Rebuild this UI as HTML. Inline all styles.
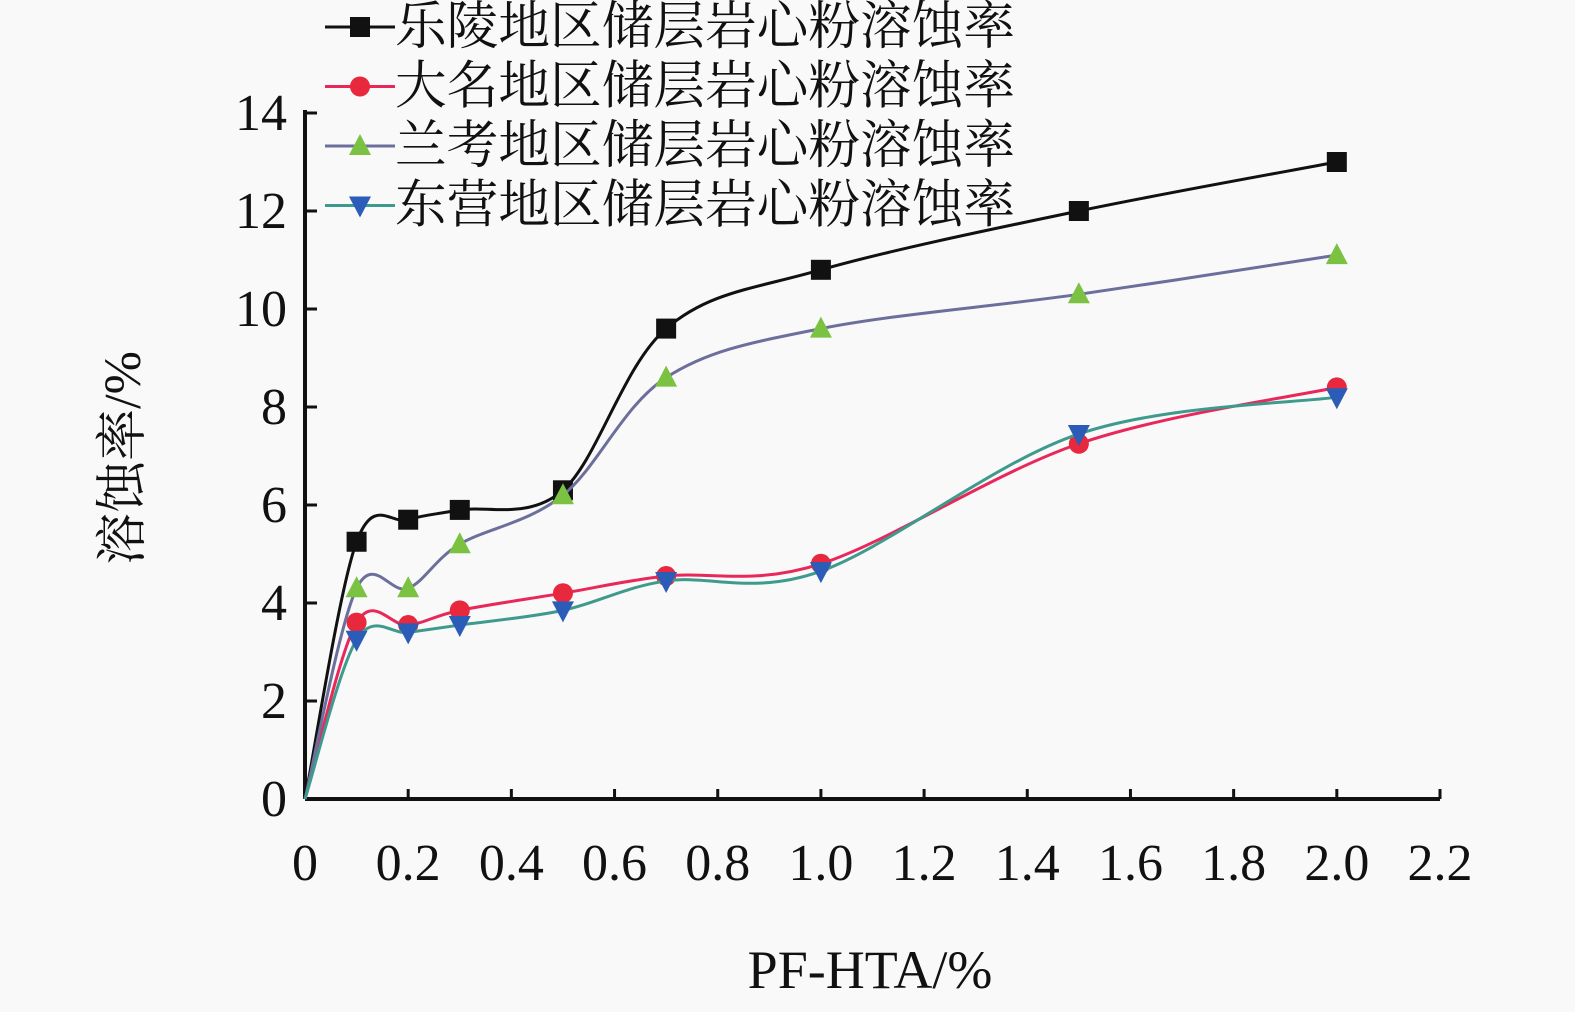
<!DOCTYPE html>
<html><head><meta charset="utf-8"><style>
html,body{margin:0;padding:0;background:#f9f9f9;}
svg{display:block;font-family:"Liberation Serif","Noto Serif CJK SC",serif;}
</style></head><body>
<svg id="c" width="1575" height="1012" xmlns="http://www.w3.org/2000/svg"></svg>
<script>
const xs=[0,0.1,0.2,0.3,0.5,0.7,1.0,1.5,2.0];
const leling=[0,5.25,5.7,5.9,6.3,9.6,10.8,12.0,13.0];
const daming=[0,3.6,3.55,3.85,4.2,4.55,4.8,7.25,8.4];
const lankao=[0,4.3,4.3,5.2,6.2,8.6,9.6,10.3,11.1];
const dongying=[0,3.25,3.4,3.55,3.85,4.45,4.65,7.45,8.2];
const xTicks=["0","0.2","0.4","0.6","0.8","1.0","1.2","1.4","1.6","1.8","2.0","2.2"];
const yTicks=["0","2","4","6","8","10","12","14"];
const names=["乐陵地区储层岩心粉溶蚀率","大名地区储层岩心粉溶蚀率","兰考地区储层岩心粉溶蚀率","东营地区储层岩心粉溶蚀率"];
const svg=document.getElementById('c');const NS='http://www.w3.org/2000/svg';
const X0=305,X1=1440,Y0=799,Y1=113;
const sx=v=>X0+v/2.2*(X1-X0), sy=v=>Y0-v/14*(Y0-Y1);
function mk(t,a,p){const e=document.createElementNS(NS,t);for(const k in a)e.setAttribute(k,a[k]);(p||svg).appendChild(e);return e;}
let g;
g=mk('line',{x1:X0,y1:Y0,x2:X1,y2:Y0,stroke:'#111','stroke-width':4});


g=mk('line',{x1:X0,y1:Y0,x2:X0,y2:Y1-3,stroke:'#111','stroke-width':4});


xTicks.forEach((t,i)=>{const x=sx(i*0.2);
 mk('line',{x1:x,y1:Y0,x2:x,y2:Y0-10,stroke:'#111','stroke-width':3});
 const e=mk('text',{x:x,y:880,'font-size':52,'text-anchor':'middle',fill:'#111'});e.textContent=t;
 
 });
yTicks.forEach((t,i)=>{const y=sy(i*2);
 mk('line',{x1:X0,y1:y,x2:X0+12,y2:y,stroke:'#111','stroke-width':3});
 const e=mk('text',{x:287,y:y+17,'font-size':52,'text-anchor':'end',fill:'#111'});e.textContent=t;
 
 });
g=mk('text',{x:870,y:988,'font-size':54,'text-anchor':'middle',fill:'#111'});g.textContent='PF-HTA/%';


g=mk('text',{x:0,y:0,'font-size':52,'text-anchor':'middle',fill:'#111',transform:'translate(140,458) rotate(-90)'});g.textContent='溶蚀率/%';


function path(vals){const p=xs.map((x,i)=>[sx(x),sy(vals[i])]);let d=`M${p[0][0]},${p[0][1]}`;
 for(let i=0;i<p.length-1;i++){const a=p[i-1]||p[i],b=p[i],c=p[i+1],e=p[i+2]||c;
 d+=` C${b[0]+(c[0]-a[0])/6},${b[1]+(c[1]-a[1])/6} ${c[0]-(e[0]-b[0])/6},${c[1]-(e[1]-b[1])/6} ${c[0]},${c[1]}`;}return d;}
function marker(type,x,y,col,p){
 if(type==='sq')return mk('rect',{x:x-10,y:y-10,width:20,height:20,fill:col},p);
 if(type==='ci')return mk('circle',{cx:x,cy:y,r:10,fill:col},p);
 if(type==='up')return mk('polygon',{points:`${x},${y-12} ${x-11},${y+9} ${x+11},${y+9}`,fill:col},p);
 return mk('polygon',{points:`${x},${y+12} ${x-11},${y-9} ${x+11},${y-9}`,fill:col},p);}
const series=[[leling,'#111','#111','sq'],[daming,'#e8285a','#e8283c','ci'],[lankao,'#6c6e9c','#7cc242','up'],[dongying,'#3f9a8e','#2a5cb8','dn']];
series.forEach((s,k)=>{const gr=mk('g',{});
 
 
 mk('path',{d:path(s[0]),fill:'none',stroke:s[1],'stroke-width':3},gr);
 xs.forEach((x,i)=>{if(i>0){const m=marker(s[3],sx(x),sy(s[0][i]),s[2],gr);
 
 }});
 const ly=27+k*59.5;
 const lg=mk('g',{});
 
 
 mk('line',{x1:325,y1:ly,x2:395,y2:ly,stroke:s[1],'stroke-width':3},lg);
 marker(s[3],360,ly,s[2],lg);
 const t=mk('text',{x:395,y:ly+17,'font-size':52,fill:'#111',textLength:620,lengthAdjust:'spacingAndGlyphs'},lg);t.textContent=names[k];});
</script>
</body></html>
